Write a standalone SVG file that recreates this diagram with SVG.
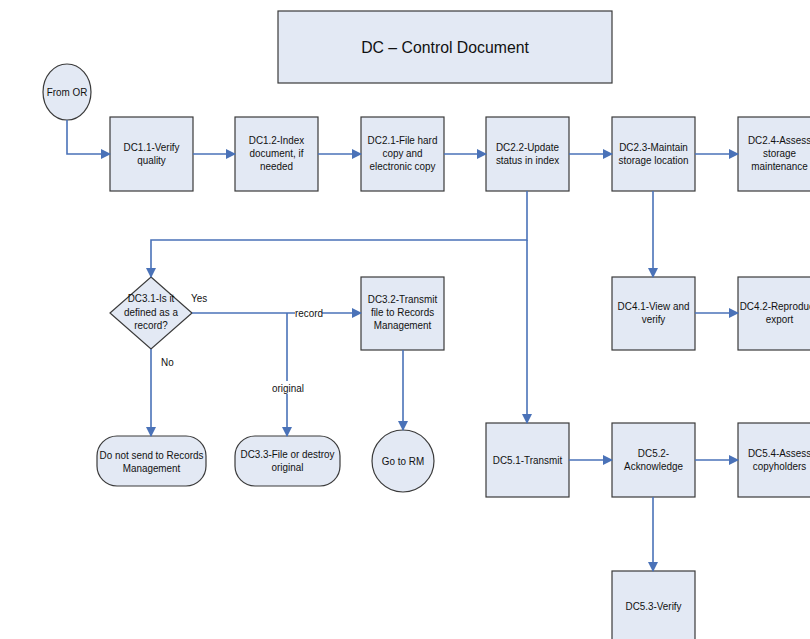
<svg xmlns="http://www.w3.org/2000/svg" width="810" height="639" viewBox="0 0 810 639">
<style>
.n{fill:#e3e9f4;stroke:#3a3a3a;stroke-width:1.2}
.t{font-family:"Liberation Sans",Arial,sans-serif;font-size:11.5px;fill:#111;text-anchor:middle}
.c{fill:none;stroke:#4a72b8;stroke-width:1.6}
.l{font-family:"Liberation Sans",Arial,sans-serif;font-size:11.5px;fill:#111}
</style>
<defs>
<marker id="a" viewBox="0 0 10 10" refX="9" refY="5" markerWidth="10" markerHeight="10" markerUnits="userSpaceOnUse" orient="auto">
<path d="M0,0 L10,5 L0,10 z" fill="#4a72b8"/>
</marker>
</defs>
<rect width="810" height="639" fill="#fff"/>
<g id="title"><rect class="n" x="278" y="11" width="334" height="72"/><g transform="translate(445,0) scale(0.93,1)"><text class="t" x="0" y="53" style="font-size:17px">DC – Control Document</text></g></g>
<g id="fromOR"><ellipse class="n" cx="67" cy="92" rx="24" ry="28"/><g transform="translate(67,0) scale(0.86,1)"><text class="t" x="0" y="96">From OR</text></g></g>
<g id="dc11"><rect class="n" x="110" y="117" width="83" height="74"/><g transform="translate(151.5,0) scale(0.86,1)"><text class="t" x="0" y="151">DC1.1-Verify</text><text class="t" x="0" y="164">quality</text></g></g>
<g id="dc12"><rect class="n" x="235" y="117" width="83" height="74"/><g transform="translate(276.5,0) scale(0.86,1)"><text class="t" x="0" y="144">DC1.2-Index</text><text class="t" x="0" y="157">document, if</text><text class="t" x="0" y="170">needed</text></g></g>
<g id="dc21"><rect class="n" x="361" y="117" width="83" height="74"/><g transform="translate(402.5,0) scale(0.86,1)"><text class="t" x="0" y="144">DC2.1-File hard</text><text class="t" x="0" y="157">copy and</text><text class="t" x="0" y="170">electronic copy</text></g></g>
<g id="dc22"><rect class="n" x="486" y="117" width="83" height="74"/><g transform="translate(527.5,0) scale(0.86,1)"><text class="t" x="0" y="151">DC2.2-Update</text><text class="t" x="0" y="164">status in index</text></g></g>
<g id="dc23"><rect class="n" x="612" y="117" width="83" height="74"/><g transform="translate(653.5,0) scale(0.86,1)"><text class="t" x="0" y="151">DC2.3-Maintain</text><text class="t" x="0" y="164">storage location</text></g></g>
<g id="dc24"><rect class="n" x="738" y="117" width="83" height="74"/><g transform="translate(779.5,0) scale(0.86,1)"><text class="t" x="0" y="144">DC2.4-Assess</text><text class="t" x="0" y="157">storage</text><text class="t" x="0" y="170">maintenance</text></g></g>
<g id="dc31"><polygon class="n" points="151,277 192,313 151,349 110,313"/><g transform="translate(151,0) scale(0.86,1)"><text class="t" x="0" y="302">DC3.1-Is it</text><text class="t" x="0" y="316">defined as a</text><text class="t" x="0" y="329">record?</text></g></g>
<g id="dc32"><rect class="n" x="361" y="277" width="83" height="73"/><g transform="translate(402.5,0) scale(0.86,1)"><text class="t" x="0" y="303">DC3.2-Transmit</text><text class="t" x="0" y="316">file to Records</text><text class="t" x="0" y="329">Management</text></g></g>
<g id="dc41"><rect class="n" x="612" y="277" width="83" height="73"/><g transform="translate(653.5,0) scale(0.86,1)"><text class="t" x="0" y="310">DC4.1-View and</text><text class="t" x="0" y="323">verify</text></g></g>
<g id="dc42"><rect class="n" x="738" y="277" width="83" height="73"/><g transform="translate(779.5,0) scale(0.86,1)"><text class="t" x="0" y="310">DC4.2-Reproduce</text><text class="t" x="0" y="323">export</text></g></g>
<g id="nosend"><rect class="n" x="97" y="436" width="109" height="50" rx="20"/><g transform="translate(151.5,0) scale(0.86,1)"><text class="t" x="0" y="459">Do not send to Records</text><text class="t" x="0" y="472">Management</text></g></g>
<g id="dc33"><rect class="n" x="235" y="436" width="105" height="50" rx="20"/><g transform="translate(287.5,0) scale(0.86,1)"><text class="t" x="0" y="458">DC3.3-File or destroy</text><text class="t" x="0" y="471">original</text></g></g>
<g id="gorm"><circle class="n" cx="403" cy="461" r="31"/><g transform="translate(403,0) scale(0.86,1)"><text class="t" x="0" y="465">Go to RM</text></g></g>
<g id="dc51"><rect class="n" x="486" y="423" width="83" height="74"/><g transform="translate(527.5,0) scale(0.86,1)"><text class="t" x="0" y="464">DC5.1-Transmit</text></g></g>
<g id="dc52"><rect class="n" x="612" y="423" width="83" height="74"/><g transform="translate(653.5,0) scale(0.86,1)"><text class="t" x="0" y="457">DC5.2-</text><text class="t" x="0" y="470">Acknowledge</text></g></g>
<g id="dc54"><rect class="n" x="738" y="423" width="83" height="74"/><g transform="translate(779.5,0) scale(0.86,1)"><text class="t" x="0" y="457">DC5.4-Assess</text><text class="t" x="0" y="470">copyholders</text></g></g>
<g id="dc53"><rect class="n" x="612" y="571" width="83" height="74"/><g transform="translate(653.5,0) scale(0.86,1)"><text class="t" x="0" y="610">DC5.3-Verify</text></g></g>
<g id="connectors">
<path class="c" d="M67,120 V154 H110" marker-end="url(#a)"/>
<path class="c" d="M193,154 H235" marker-end="url(#a)"/>
<path class="c" d="M318,154 H361" marker-end="url(#a)"/>
<path class="c" d="M444,154 H486" marker-end="url(#a)"/>
<path class="c" d="M569,154 H612" marker-end="url(#a)"/>
<path class="c" d="M695,154 H738" marker-end="url(#a)"/>
<path class="c" d="M527,191 V240 H151 V277" marker-end="url(#a)"/>
<path class="c" d="M527,240 V423" marker-end="url(#a)"/>
<path class="c" d="M653,191 V277" marker-end="url(#a)"/>
<path class="c" d="M695,313 H738" marker-end="url(#a)"/>
<path class="c" d="M192,313 H361" marker-end="url(#a)"/>
<path class="c" d="M287,313 V436" marker-end="url(#a)"/>
<path class="c" d="M151,349 V436" marker-end="url(#a)"/>
<path class="c" d="M403,350 V430" marker-end="url(#a)"/>
<path class="c" d="M569,460 H612" marker-end="url(#a)"/>
<path class="c" d="M695,460 H738" marker-end="url(#a)"/>
<path class="c" d="M653,497 V571" marker-end="url(#a)"/>
<rect x="295" y="306" width="27" height="13" fill="#fff"/>
<g transform="translate(295,0) scale(0.86,1)"><text class="l" x="0" y="317">record</text></g>
<g transform="translate(191,0) scale(0.86,1)"><text class="l" x="0" y="302">Yes</text></g>
<g transform="translate(161,0) scale(0.86,1)"><text class="l" x="0" y="366">No</text></g>
<rect x="272" y="381" width="31" height="13" fill="#fff"/>
<g transform="translate(272,0) scale(0.86,1)"><text class="l" x="0" y="392">original</text></g>
</g>
</svg>
